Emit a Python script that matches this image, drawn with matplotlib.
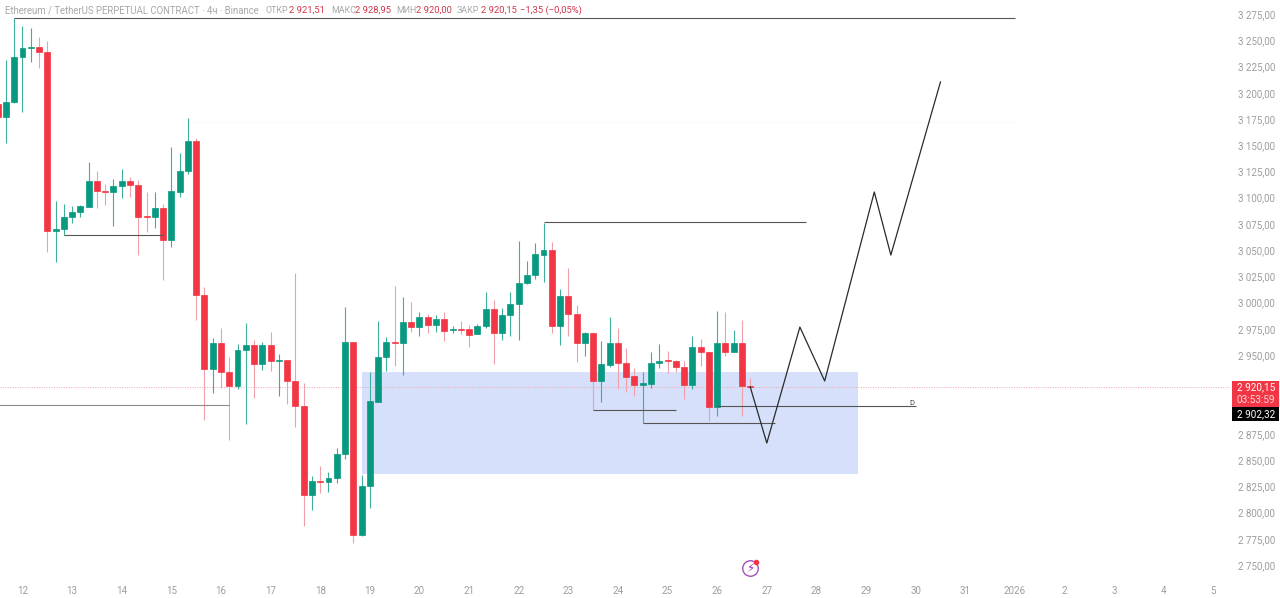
import matplotlib
matplotlib.use("Agg")
import matplotlib.pyplot as plt
from matplotlib.patches import Rectangle
from matplotlib.transforms import ScaledTranslation
import numpy as np

# 4h candles, index 0 = first candle of the 12th
first_idx = -3
opens = [3190.2, 3177.5, 3192.1, 3235.3, 3243.3, 3244.2, 3240.0, 3069.2, 3070.8, 3082.3, 3087.3, 3092.4,
         3117.1, 3107.6, 3106.4, 3112.4, 3116.6, 3113.0, 3083.5, 3082.3, 3090.8, 3060.9, 3106.6, 3126.7,
         3154.7, 3008.7, 2937.7, 2962.2, 2934.6, 2921.5, 2955.5, 2960.6, 2942.8, 2960.3, 2945.6, 2946.0,
         2926.6, 2902.2, 2818.0, 2831.0, 2829.8, 2833.9, 2857.0, 2963.1, 2779.3, 2826.2, 2906.6, 2949.4,
         2963.4, 2962.8, 2982.8, 2977.4, 2987.3, 2979.4, 2985.1, 2974.9, 2975.8, 2975.5, 2970.8, 2979.0,
         2994.6, 2972.3, 2988.9, 3000.0, 3019.4, 3027.6, 3046.6, 3050.8, 2978.7, 3007.6, 2989.9, 2962.8,
         2971.7, 2926.6, 2941.8, 2962.2, 2943.4, 2930.8, 2922.8, 2923.4, 2943.7, 2946.0, 2945.3, 2939.9,
         2922.5, 2958.7, 2954.2, 2901.5, 2962.8, 2954.2, 2962.8, 2921.51]
closes = [3177.8, 3191.8, 3235.3, 3243.3, 3244.2, 3240.0, 3069.2, 3071.4, 3082.3, 3087.3, 3092.7, 3117.1,
          3107.3, 3106.4, 3112.4, 3116.6, 3113.0, 3082.8, 3082.8, 3090.8, 3060.9, 3107.0, 3126.7, 3154.7,
          3008.7, 2938.0, 2962.2, 2934.9, 2921.5, 2955.8, 2960.6, 2942.8, 2960.3, 2945.6, 2946.3, 2926.6,
          2902.2, 2818.0, 2830.7, 2829.8, 2833.9, 2856.7, 2963.1, 2779.3, 2826.2, 2906.9, 2949.4, 2963.1,
          2962.8, 2982.8, 2977.4, 2987.3, 2979.6, 2985.1, 2974.2, 2976.1, 2975.2, 2970.4, 2979.0, 2994.6,
          2972.3, 2988.9, 3000.0, 3019.4, 3027.6, 3047.0, 3050.8, 2978.7, 3007.6, 2989.8, 2962.7, 2971.7,
          2926.6, 2942.2, 2962.2, 2943.4, 2930.4, 2922.8, 2924.1, 2943.7, 2945.6, 2945.0, 2939.6, 2922.5,
          2958.7, 2954.2, 2901.5, 2962.8, 2954.2, 2962.8, 2921.5, 2920.15]
highs = [3194.0, 3232.1, 3272.2, 3264.5, 3262.9, 3254.3, 3250.2, 3097.8, 3094.9, 3093.0, 3094.0, 3135.2,
         3126.4, 3114.0, 3118.5, 3128.6, 3120.4, 3117.8, 3106.6, 3106.4, 3094.9, 3149.5, 3143.2, 3176.6,
         3157.5, 3016.1, 2967.0, 2976.5, 2949.4, 2961.5, 2981.8, 2965.3, 2963.7, 2973.3, 2952.0, 2946.3,
         3029.5, 2924.1, 2835.8, 2845.6, 2839.3, 2862.2, 2997.0, 2963.7, 2836.7, 2935.1, 2983.5, 2968.5,
         3017.1, 3006.6, 3001.3, 2991.7, 2990.1, 2988.9, 2991.7, 2979.0, 2983.7, 2979.6, 2980.6, 3011.4,
         3003.5, 2995.6, 3011.4, 3060.0, 3040.9, 3057.5, 3077.1, 3058.4, 3013.9, 3034.2, 2998.7, 2973.3,
         2973.3, 2964.7, 2987.5, 2976.5, 2957.4, 2938.4, 2935.1, 2954.2, 2961.5, 2955.2, 2946.3, 2945.3,
         2969.2, 2966.0, 2954.2, 2993.3, 2991.7, 2974.9, 2984.4, 2928.95]
lows = [3175.0, 3153.3, 3191.2, 3182.9, 3230.5, 3224.2, 3048.9, 3040.0, 3065.4, 3076.5, 3082.8, 3092.4,
        3091.4, 3094.0, 3074.3, 3100.4, 3101.9, 3046.3, 3068.5, 3071.8, 3022.5, 3054.2, 3101.9, 3123.5,
        2984.4, 2889.1, 2914.6, 2919.3, 2870.1, 2918.4, 2885.3, 2909.8, 2936.8, 2936.1, 2912.0, 2904.4,
        2882.7, 2788.1, 2803.4, 2819.8, 2820.2, 2829.4, 2852.0, 2772.2, 2778.6, 2805.0, 2906.6, 2936.1,
        2940.9, 2932.0, 2972.7, 2969.2, 2971.7, 2973.2, 2964.7, 2972.3, 2971.1, 2959.0, 2970.8, 2976.5,
        2942.2, 2965.3, 2969.2, 2965.3, 3018.7, 3023.5, 3020.3, 2972.3, 2960.6, 2969.4, 2944.7, 2950.4,
        2898.6, 2906.6, 2939.3, 2918.7, 2916.1, 2912.0, 2886.0, 2919.3, 2939.0, 2933.6, 2935.1, 2908.8,
        2918.4, 2940.6, 2888.5, 2893.0, 2950.4, 2954.2, 2893.0, 2920.0]

price_ticks = list(range(2750, 3276, 25))
hidden_ticks = [2900, 2925]  # covered by the price tags
day_ticks = ["12", "13", "14", "15", "16", "17", "18", "19", "20", "21", "22", "23", "24", "25", "26",
             "27", "28", "29", "30", "31", "2026", "2", "3", "4", "5"]

# hand drawn levels on the chart: (start idx, end idx, price)
levels = [(-1, 120, 3271.7), (5, 17, 3065.4), (63, 94.8, 3077.8),
          (69, 79, 2898.6), (75, 91, 2886.0), (84, 108, 2902.32)]
old_level = (-3, 25, 2903.4)
faint_level = (20, 120, 3173.5)
path_idx = [88, 90, 94, 97, 103, 105, 111]
path_price = [2920.6, 2867.2, 2977.7, 2926.3, 3106.4, 3046.3, 3211.2]
zone_idx = [41, 101]
zone_price = [2837.7, 2934.9]
last_price = 2920.15

green = "#089981"
red = "#F23645"
green_wick = "#3fae9a"
red_wick = "#f0a0a8"
grey = "#9d9d9d"
plt.rcParams['font.family'] = ['Roboto', 'DejaVu Sans']

fig = plt.figure(figsize=(12.8, 5.98), dpi=100)
ax = fig.add_axes([0, 1 - 578 / 598, 1230 / 1280, 578 / 598])
ax.set_xlim(-2.72, 146.01)
ax.set_ylim(2738.6, 3289.3)

ax.add_patch(Rectangle((zone_idx[0], zone_price[0]), zone_idx[1] - zone_idx[0], zone_price[1] - zone_price[0],
                       facecolor="#d6e0fb", edgecolor="none", zorder=1))
ax.axhline(last_price, color="#f2a5ac", lw=0.7, ls=(0, (1, 1.5)), zorder=1.5)
ax.plot(faint_level[:2], [faint_level[2]] * 2, color="#fafafa", lw=0.8, zorder=1)

x = first_idx + np.arange(len(opens))
o = np.array(opens)
c = np.array(closes)
up = c >= o
ax.vlines(x[up], np.array(lows)[up], np.array(highs)[up], color=green_wick, lw=0.8, zorder=2)
ax.vlines(x[~up], np.array(lows)[~up], np.array(highs)[~up], color=red_wick, lw=0.8, zorder=2)
colors = [green if u else red for u in up]
ax.bar(x, np.abs(c - o), bottom=np.minimum(o, c), width=0.72, color=colors, edgecolor=colors, linewidth=0.5, zorder=3)

for x0, x1, p in levels:
    ax.plot([x0, x1], [p, p], color="#555555", lw=0.8, zorder=4, solid_capstyle="butt")
ax.plot(old_level[:2], [old_level[2]] * 2, color="#8c8c8c", lw=0.8, zorder=4, solid_capstyle="butt")
ax.plot(path_idx, path_price, color="#2a2a2a", lw=0.9, zorder=5)
ax.text(107.5, 2905.6, "D", fontsize=5.5, color="#444444", ha="center", va="center", zorder=5)

# axes
ax.set_xticks(np.arange(len(day_ticks)) * 6)
ax.set_xticklabels(day_ticks)
ax.yaxis.tick_right()
ax.set_yticks(price_ticks)
ax.set_yticklabels(["" if p in hidden_ticks else f"{p // 1000} {p % 1000:03d},00" for p in price_ticks])
ax.tick_params(axis="both", length=0, labelsize=7.0, labelcolor=grey)
ax.tick_params(axis="y", pad=5.5)
ax.tick_params(axis="x", pad=5.5)
for s in ax.spines.values():
    s.set_visible(False)
shift = ScaledTranslation(0, 1 / 100, fig.dpi_scale_trans)
for lab in ax.get_yticklabels():
    lab.set_transform(lab.get_transform() + shift)

# price tags on the scale
tr = ax.get_yaxis_transform()
ax.add_patch(Rectangle((1232 / 1230, 2901.8), 47 / 1230, 24.8, transform=tr, facecolor=red, edgecolor="none",
                       clip_on=False, zorder=10))
ax.add_patch(Rectangle((1232 / 1230, 2888.2), 47 / 1230, 13.6, transform=tr, facecolor="black", edgecolor="none",
                       clip_on=False, zorder=10))
ax.text(1256 / 1230, 2920.0, "2 920,15", transform=tr, color="white", fontsize=7.2, ha="center", va="center", zorder=11)
ax.text(1256 / 1230, 2908.6, "03:53:59", transform=tr, color="#ffd5d8", fontsize=7.2, ha="center", va="center", zorder=11)
ax.text(1256 / 1230, 2895.0, "2 902,32", transform=tr, color="white", fontsize=7.2, ha="center", va="center", zorder=11)

# small lightning icon
ax.scatter([88], [2748.1], s=125, facecolor="white", edgecolor="#a64fc0", linewidth=1.0, zorder=6)
ax.text(88, 2748.1, "\u26a1", fontsize=8.5, color="#9c27b0", ha="center", va="center", family="DejaVu Sans", zorder=7)
ax.scatter([88.75], [2754.2], s=9, color="#f23645", zorder=8)

# header line
header = [(5, "Ethereum / TetherUS PERPETUAL CONTRACT · 4ч · Binance", "#a8a8a8", 6.95),
          (265, "ОТКР", "#a8a8a8", 6.4), (289, "2 921,51", "#d2354a", 6.75),
          (331, "МАКС", "#a8a8a8", 6.4), (355, "2 928,95", "#d2354a", 6.75),
          (396, "МИН", "#a8a8a8", 6.4), (416, "2 920,00", "#d2354a", 6.75),
          (457, "ЗАКР", "#a8a8a8", 6.4), (481, "2 920,15", "#d2354a", 6.75),
          (520, "−1,35 (−0,05%)", "#d2354a", 6.75)]
for px, txt, col, size in header:
    fig.text(px / 1280, 1 - 10.5 / 598, txt, color=col, fontsize=size, ha="left", va="center")

fig.savefig("out.png", dpi=100)
